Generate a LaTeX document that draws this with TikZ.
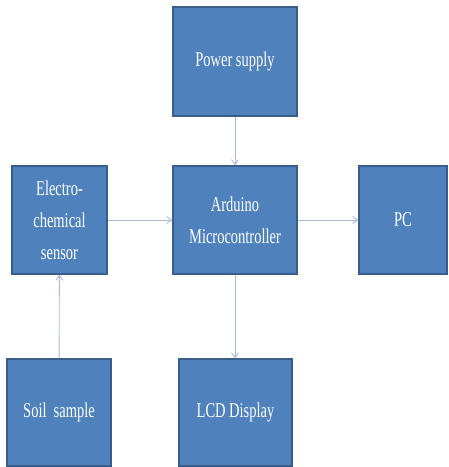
\documentclass[tikz,border=0pt]{standalone}
\usepackage{fontspec}
\setmainfont{Liberation Serif}[FakeStretch=0.69]
\usepackage{tikz}
\usetikzlibrary{arrows.meta, positioning}
\usepackage{xcolor}
\definecolor{boxfill}{HTML}{4F81BD}
\definecolor{boxedge}{HTML}{385D8A}
\definecolor{linkcol}{HTML}{A9BBD2}

\tikzset{
  block/.style={rectangle, fill=boxfill, draw=boxedge, line width=1.2pt, text=white,
    inner sep=0pt, align=center, font=\fontsize{21}{32}\selectfont},
  link/.style={->, linkcol, line width=0.9pt}
}

\begin{document}
\begin{tikzpicture}[x=1pt, y=-1pt, >={Straight Barb[length=5pt, width=7pt]}]
\useasboundingbox (0,0) rectangle (449,467);
% blocks
\node[block, minimum width=124pt, minimum height=109pt] (power) at (235,61.5) {Power supply};
\node[block, minimum width=124pt, minimum height=108pt] (arduino) at (235,220) {Arduino\\Microcontroller};
\node[block, minimum width=95pt, minimum height=108pt] (sensor) at (59.5,220) {Electro-\\chemical\\sensor};
\node[block, minimum width=88pt, minimum height=108pt] (pc) at (403,220) {PC};
\node[block, minimum width=104pt, minimum height=107pt] (soil) at (59,412.5) {Soil\, sample};
\node[block, minimum width=113pt, minimum height=107pt] (lcd) at (235.5,412.5) {LCD Display};
% links
\draw[link] (power) -- (arduino);
\draw[link] (sensor) -- (arduino);
\draw[link] (arduino) -- (pc);
\draw[link] (arduino.south) -- (arduino.south |- lcd.north);
\draw[link] (soil) -- (sensor);
\end{tikzpicture}
\end{document}
